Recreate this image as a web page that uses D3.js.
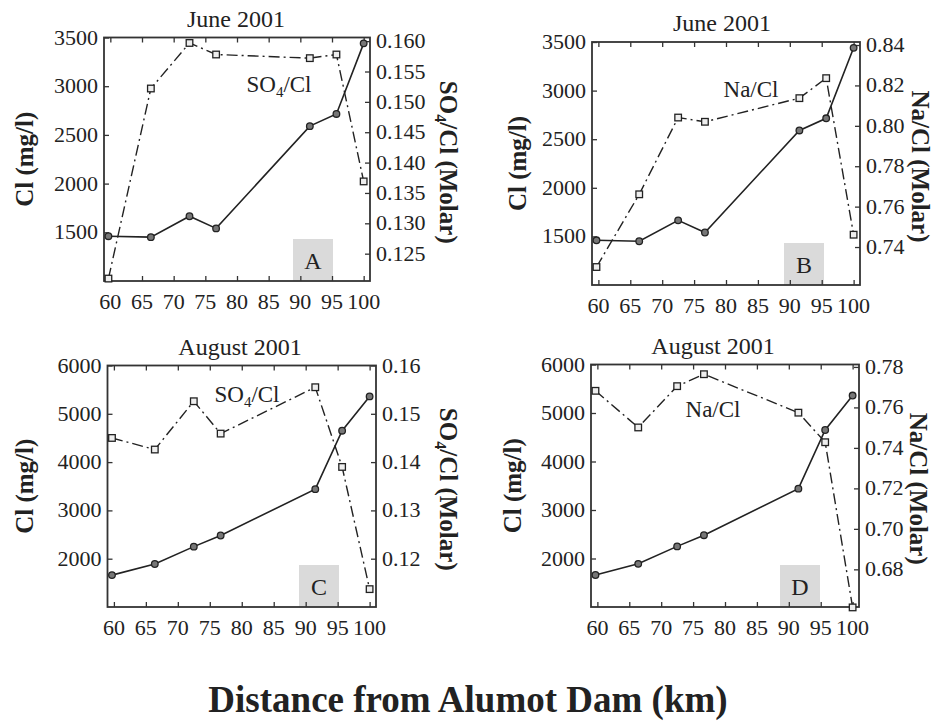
<!DOCTYPE html>
<html>
<head>
<meta charset="utf-8">
<script src="https://cdn.jsdelivr.net/npm/d3@7"></script>
<style>
  body { margin: 0; background: #fff; }
  text { font-family: "Liberation Serif", "Times New Roman", serif; fill: #222; }
</style>
</head>
<body>
<div id="chart"></div>
<script>
var width = 935;
var height = 726;

// distance of the sampling stations (km)
var stations = [59.7, 66.4, 72.5, 76.7, 91.5, 95.7, 100];

// June 2001
var clJune = [1460, 1450, 1665, 1540, 2590, 2715, 3440];
var so4June = [0.1209, 0.1522, 0.1597, 0.1578, 0.1572, 0.1578, 0.1369];
var naJune = [0.7301, 0.7661, 0.8041, 0.802, 0.8137, 0.8236, 0.7461];

// August 2001
var clAug = [1660, 1890, 2250, 2480, 3440, 4650, 5360];
var so4Aug = [0.145, 0.1426, 0.1526, 0.1459, 0.1555, 0.139, 0.1137];
var naAug = [0.7682, 0.7501, 0.7705, 0.7764, 0.7574, 0.7428, 0.6612];

// tick labels
var xTicks = [60, 65, 70, 75, 80, 85, 90, 95, 100];
var clTicksJune = [1500, 2000, 2500, 3000, 3500];
var clTicksAug = [2000, 3000, 4000, 5000, 6000];
var so4TicksJune = [0.125, 0.13, 0.135, 0.14, 0.145, 0.15, 0.155, 0.16];
var naTicksJune = [0.74, 0.76, 0.78, 0.8, 0.82, 0.84];
var so4TicksAug = [0.12, 0.13, 0.14, 0.15, 0.16];
var naTicksAug = [0.68, 0.7, 0.72, 0.74, 0.76, 0.78];

var svg = d3
  .select("#chart")
  .append("svg")
  .attr("width", width)
  .attr("height", height)
  .attr("font-family", "Liberation Serif, serif");

function drawPanel(p) {
  var x = d3.scaleLinear().domain([59, 101]).range([p.left, p.right]);
  var yL = d3.scaleLinear().domain(p.clDomain).range([p.bottom, p.top]);
  var yR = d3.scaleLinear().domain(p.ratioDomain).range([p.bottom, p.top]);

  var g = svg.append("g");

  // letter box
  g.append("rect")
    .attr("x", p.letterX)
    .attr("y", p.bottom - 42)
    .attr("width", 40)
    .attr("height", 42)
    .attr("fill", "#dadada");
  g.append("text")
    .attr("x", p.letterX + 20)
    .attr("y", p.bottom - 12)
    .attr("text-anchor", "middle")
    .attr("font-size", 24)
    .text(p.letter);

  // axes with inward ticks, labels drawn separately
  g.append("g")
    .attr("transform", "translate(0," + p.bottom + ")")
    .call(d3.axisTop(x).tickValues(xTicks).tickSize(5).tickFormat(""));
  g.append("g")
    .attr("transform", "translate(0," + p.top + ")")
    .call(d3.axisBottom(x).tickValues(xTicks).tickSize(5).tickFormat(""));
  g.append("g")
    .attr("transform", "translate(" + p.left + ",0)")
    .call(d3.axisRight(yL).tickValues(p.clTicks).tickSize(5).tickFormat(""));
  g.append("g")
    .attr("transform", "translate(" + p.right + ",0)")
    .call(d3.axisLeft(yR).tickValues(p.ratioTicks).tickSize(5).tickFormat(""));
  g.selectAll(".domain").remove();
  g.selectAll(".tick line").attr("stroke", "#333").attr("stroke-width", 1.3);

  g.append("rect")
    .attr("x", p.left)
    .attr("y", p.top)
    .attr("width", p.right - p.left)
    .attr("height", p.bottom - p.top)
    .attr("fill", "none")
    .attr("stroke", "#333")
    .attr("stroke-width", 1.8);

  // tick labels
  g.selectAll(".xl")
    .data(xTicks)
    .enter()
    .append("text")
    .attr("x", function(d) { return x(d); })
    .attr("y", p.bottom + 28)
    .attr("text-anchor", "middle")
    .attr("font-size", 22)
    .text(function(d) { return d; });
  g.selectAll(".yl")
    .data(p.clTicks)
    .enter()
    .append("text")
    .attr("x", p.left - 6)
    .attr("y", function(d) { return yL(d) + 7; })
    .attr("text-anchor", "end")
    .attr("font-size", 22)
    .text(function(d) { return d; });
  g.selectAll(".yr")
    .data(p.ratioTicks)
    .enter()
    .append("text")
    .attr("x", p.right + 6)
    .attr("y", function(d) { return yR(d) + 7; })
    .attr("font-size", 22)
    .text(function(d) { return d3.format(p.ratioFormat)(d); });

  // titles
  g.append("text")
    .attr("x", p.titleX)
    .attr("y", p.top - 11)
    .attr("text-anchor", "middle")
    .attr("font-size", 24)
    .text(p.title);

  g.append("text")
    .attr("transform", "translate(" + p.leftLabelX + "," + (p.top + p.bottom) / 2 + ") rotate(-90)")
    .attr("text-anchor", "middle")
    .attr("font-size", 25)
    .attr("font-weight", "bold")
    .text("Cl (mg/l)");

  var rl = g.append("text")
    .attr("transform", "translate(" + p.rightLabelX + "," + ((p.top + p.bottom) / 2 + 3) + ") rotate(90)")
    .attr("text-anchor", "middle")
    .attr("font-size", 25)
    .attr("font-weight", "bold");
  addRatioText(rl, p.ion, " (Molar)");

  var sl = g.append("text")
    .attr("x", p.seriesX)
    .attr("y", p.seriesY)
    .attr("text-anchor", "middle")
    .attr("font-size", 23);
  addRatioText(sl, p.ion, "");

  // ratio series: dash-dot with open squares
  var ratioPts = stations.map(function(s, i) { return [s, p.ratio[i]]; });
  var clPts = stations.map(function(s, i) { return [s, p.cl[i]]; });

  g.append("path")
    .datum(ratioPts)
    .attr("fill", "none")
    .attr("stroke", "#222")
    .attr("stroke-width", 1.4)
    .attr("stroke-dasharray", "11,4,2,4")
    .attr("d", d3.line()
      .x(function(d) { return x(d[0]); })
      .y(function(d) { return yR(d[1]); }));

  g.append("path")
    .datum(clPts)
    .attr("fill", "none")
    .attr("stroke", "#222")
    .attr("stroke-width", 1.6)
    .attr("d", d3.line()
      .x(function(d) { return x(d[0]); })
      .y(function(d) { return yL(d[1]); }));

  g.selectAll(".sq")
    .data(ratioPts)
    .enter()
    .append("rect")
    .attr("x", function(d) { return x(d[0]) - 3.3; })
    .attr("y", function(d) { return yR(d[1]) - 3.3; })
    .attr("width", 6.6)
    .attr("height", 6.6)
    .attr("fill", "#eee")
    .attr("stroke", "#222")
    .attr("stroke-width", 1.3);

  g.selectAll(".dot")
    .data(clPts)
    .enter()
    .append("circle")
    .attr("cx", function(d) { return x(d[0]); })
    .attr("cy", function(d) { return yL(d[1]); })
    .attr("r", 3.3)
    .attr("fill", "#777")
    .attr("stroke", "#222")
    .attr("stroke-width", 1.3);
}

// ratio label: SO4/Cl with subscript, or Na/Cl
function addRatioText(t, ion, suffix) {
  if (ion === "SO4") {
    t.append("tspan").text("SO");
    t.append("tspan").attr("font-size", "0.65em").attr("dy", 5).text("4");
    t.append("tspan").attr("dy", -5).text("/Cl" + suffix);
  } else {
    t.append("tspan").text("Na/Cl" + suffix);
  }
}

drawPanel({
  left: 104, right: 370, top: 37.5, bottom: 281,
  clDomain: [1000, 3500], ratioDomain: [0.1205, 0.1606],
  clTicks: clTicksJune, ratioTicks: so4TicksJune, ratioFormat: ".3f",
  cl: clJune, ratio: so4June, ion: "SO4",
  title: "June 2001", titleX: 236, letter: "A", letterX: 293,
  leftLabelX: 33, rightLabelX: 440, seriesX: 279, seriesY: 92
});

drawPanel({
  left: 592, right: 860, top: 42, bottom: 285,
  clDomain: [1000, 3500], ratioDomain: [0.7212, 0.8415],
  clTicks: clTicksJune, ratioTicks: naTicksJune, ratioFormat: ".2f",
  cl: clJune, ratio: naJune, ion: "Na",
  title: "June 2001", titleX: 722, letter: "B", letterX: 784,
  leftLabelX: 526, rightLabelX: 912, seriesX: 751, seriesY: 97
});

drawPanel({
  left: 107.5, right: 376, top: 365.5, bottom: 607,
  clDomain: [1000, 6000], ratioDomain: [0.11, 0.16],
  clTicks: clTicksAug, ratioTicks: so4TicksAug, ratioFormat: ".2f",
  cl: clAug, ratio: so4Aug, ion: "SO4",
  title: "August 2001", titleX: 240, letter: "C", letterX: 299,
  leftLabelX: 33, rightLabelX: 440, seriesX: 247, seriesY: 402
});

drawPanel({
  left: 591, right: 859, top: 364.5, bottom: 607,
  clDomain: [1000, 6000], ratioDomain: [0.6614, 0.7812],
  clTicks: clTicksAug, ratioTicks: naTicksAug, ratioFormat: ".2f",
  cl: clAug, ratio: naAug, ion: "Na",
  title: "August 2001", titleX: 713, letter: "D", letterX: 780,
  leftLabelX: 521, rightLabelX: 910, seriesX: 713, seriesY: 417
});

svg.append("text")
  .attr("x", 468)
  .attr("y", 712)
  .attr("text-anchor", "middle")
  .attr("font-size", 37)
  .attr("font-weight", "bold")
  .text("Distance from Alumot Dam (km)");
</script>
</body>
</html>
